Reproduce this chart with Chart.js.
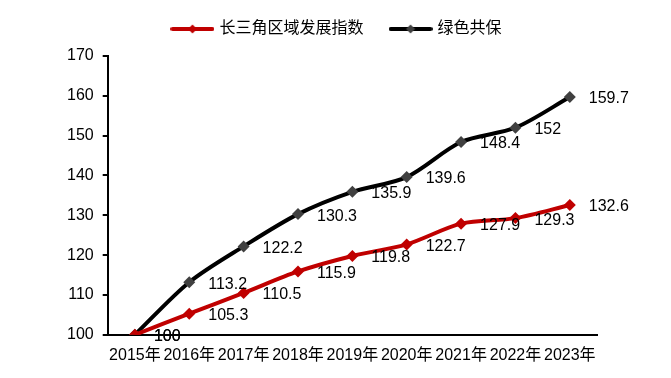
<!DOCTYPE html>
<html><head><meta charset="utf-8">
<script src="https://cdn.jsdelivr.net/npm/chart.js@4/dist/chart.umd.min.js"></script>
<style>html,body{margin:0;padding:0;background:#fff}#wrap{width:671px;height:378px}</style>
</head><body><div id="wrap"><canvas id="c"></canvas></div>
<script>
const categories = ['2015年','2016年','2017年','2018年','2019年','2020年','2021年','2022年','2023年'];
const seriesNames = ['长三角区域发展指数','绿色共保'];
const deltaIndex = [100,105.3,110.5,115.9,119.8,122.7,127.9,129.3,132.6];
const greenIndex = [100,113.2,122.2,130.3,135.9,139.6,148.4,152,159.7];
const yTicks = {min:100,max:170,step:10};

const FONT = "'Liberation Sans', Arial, 'Noto Sans CJK SC', sans-serif";

function legendIcon(lineColor, markColor){
  const cv = document.createElement('canvas');
  cv.width = 44; cv.height = 12;
  const g = cv.getContext('2d');
  g.strokeStyle = lineColor; g.lineWidth = 4; g.lineCap='round';
  g.beginPath(); g.moveTo(2,6); g.lineTo(42,6); g.stroke();
  g.fillStyle = markColor;
  g.beginPath(); g.moveTo(22,1.5); g.lineTo(26.5,6); g.lineTo(22,10.5); g.lineTo(17.5,6); g.closePath(); g.fill();
  return cv;
}

const labelPlugin = {
  id:'vlabels',
  afterLayout(chart){
    const lg = chart.legend;
    if (lg) {
      lg.top -= 9; lg.bottom -= 9;
      lg.left += 10; lg.right += 10;
      if (lg.legendHitBoxes) lg.legendHitBoxes.forEach(h=>{h.top -= 9; h.left += 10;});
    }
  },
  afterDatasetsDraw(chart){
    const ctx = chart.ctx;
    ctx.save();
    ctx.font = '16px ' + FONT;
    ctx.fillStyle = '#000';
    ctx.textAlign = 'left';
    ctx.textBaseline = 'middle';
    chart.data.datasets.forEach((ds,i)=>{
      const meta = chart.getDatasetMeta(i);
      meta.data.forEach((pt,j)=>{
        ctx.fillText(String(ds.data[j]), pt.x + 19, pt.y + 2);
      });
    });
    ctx.restore();
  }
};

new Chart(document.getElementById('c'), {
  type:'line',
  data:{
    labels: categories,
    datasets:[
      {label:seriesNames[0], data:deltaIndex, borderColor:'#C00000', backgroundColor:'#C00000',
       borderWidth:4, tension:0.3, pointStyle:'rectRot', pointRadius:6, pointBackgroundColor:'#C00000',
       pointBorderWidth:0, pointHoverRadius:6},
      {label:seriesNames[1], data:greenIndex, borderColor:'#000000', backgroundColor:'#404040',
       borderWidth:4, tension:0.3, pointStyle:'rectRot', pointRadius:6, pointBackgroundColor:'#404040',
       pointBorderWidth:0, pointHoverRadius:6}
    ]
  },
  options:{
    responsive:true, maintainAspectRatio:false, animation:false,
    layout:{padding:{left:58,right:74,top:2,bottom:2}},
    plugins:{
      tooltip:{enabled:false},
      legend:{
        position:'top',
        labels:{
          usePointStyle:true, pointStyleWidth:38, boxHeight:12,
          color:'#000', font:{size:16, family:FONT}, padding:28,
          generateLabels(chart){
            return [
              {text:seriesNames[0], pointStyle:legendIcon('#C00000','#C00000'), fillStyle:'#C00000', strokeStyle:'#C00000', lineWidth:0, datasetIndex:0, fontColor:'#000'},
              {text:seriesNames[1], pointStyle:legendIcon('#000000','#404040'), fillStyle:'#000', strokeStyle:'#000', lineWidth:0, datasetIndex:1, fontColor:'#000'}
            ];
          }
        }
      }
    },
    scales:{
      x:{
        offset:true,
        grid:{display:true, drawOnChartArea:false, drawTicks:false, color:'#000'},
        border:{display:true, color:'#000', width:2},
        ticks:{color:'#000', font:{size:16, family:FONT}, padding:11, maxRotation:0, autoSkip:false}
      },
      y:{
        min:yTicks.min, max:yTicks.max,
        grid:{display:true, drawOnChartArea:false, drawTicks:true, tickLength:5, color:'#000', lineWidth:2},
        border:{display:true, color:'#000', width:2},
        ticks:{stepSize:yTicks.step, color:'#000', font:{size:16, family:FONT}, padding:9}
      }
    }
  },
  plugins:[labelPlugin]
});
</script></body></html>
